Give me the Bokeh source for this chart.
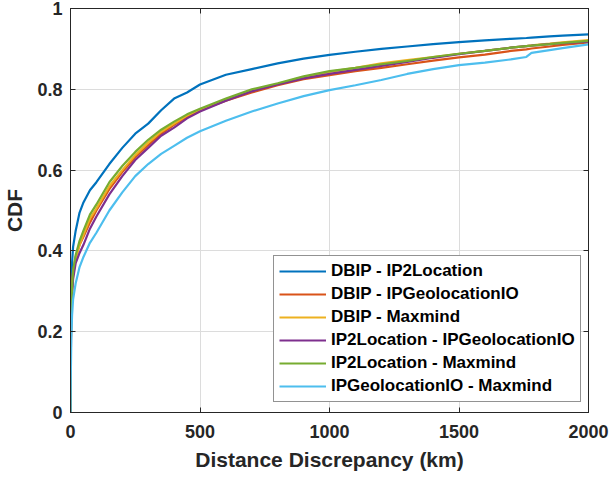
from bokeh.plotting import figure
from bokeh.models import Range1d, LinearAxis, FixedTicker, Legend, LegendItem
from bokeh.embed import file_html
from bokeh.resources import INLINE

# Distance discrepancy (km) sample points
dist_km = [0, 1, 3, 6, 10, 20, 35, 50, 75, 100, 150, 200, 250, 300, 350, 400, 450, 500,
           600, 700, 800, 900, 1000, 1100, 1200, 1300, 1400, 1500, 1600, 1700, 1760,
           1780, 1850, 1900, 2000]

cdf_dbip_ip2loc = [0, 0.22, 0.31, 0.37, 0.41, 0.45, 0.495, 0.52, 0.55, 0.57, 0.615, 0.655,
                   0.69, 0.715, 0.748, 0.777, 0.792, 0.812, 0.836, 0.85, 0.864, 0.876, 0.885,
                   0.893, 0.9, 0.906, 0.912, 0.917, 0.921, 0.925, 0.927, 0.928, 0.931, 0.933, 0.936]
cdf_dbip_ipgeo = [0, 0.18, 0.28, 0.32, 0.35, 0.385, 0.415, 0.435, 0.47, 0.5, 0.553, 0.595,
                  0.632, 0.662, 0.69, 0.712, 0.732, 0.748, 0.772, 0.792, 0.81, 0.825, 0.835,
                  0.845, 0.853, 0.862, 0.871, 0.879, 0.886, 0.895, 0.899, 0.901, 0.906, 0.91, 0.916]
cdf_dbip_maxmind = [0, 0.15, 0.25, 0.30, 0.34, 0.38, 0.415, 0.44, 0.48, 0.505, 0.56, 0.60,
                    0.637, 0.668, 0.695, 0.715, 0.735, 0.75, 0.775, 0.797, 0.813, 0.83, 0.843,
                    0.853, 0.864, 0.872, 0.88, 0.888, 0.895, 0.903, 0.907, 0.909, 0.913, 0.916, 0.922]
cdf_ip2loc_ipgeo = [0, 0.12, 0.24, 0.29, 0.33, 0.37, 0.395, 0.415, 0.455, 0.485, 0.54, 0.585,
                    0.625, 0.655, 0.685, 0.705, 0.728, 0.745, 0.772, 0.795, 0.812, 0.827, 0.838,
                    0.848, 0.858, 0.868, 0.878, 0.887, 0.895, 0.903, 0.907, 0.908, 0.912, 0.914, 0.918]
cdf_ip2loc_maxmind = [0, 0.15, 0.26, 0.31, 0.35, 0.39, 0.425, 0.45, 0.49, 0.515, 0.57, 0.61,
                      0.645, 0.675, 0.7, 0.72, 0.738, 0.752, 0.777, 0.8, 0.815, 0.832, 0.845,
                      0.853, 0.862, 0.87, 0.88, 0.888, 0.895, 0.903, 0.907, 0.908, 0.912, 0.915, 0.92]
cdf_ipgeo_maxmind = [0, 0.08, 0.18, 0.24, 0.28, 0.32, 0.36, 0.385, 0.42, 0.445, 0.5, 0.545,
                     0.585, 0.615, 0.64, 0.66, 0.68, 0.696, 0.722, 0.745, 0.765, 0.783, 0.798,
                     0.81, 0.823, 0.838, 0.85, 0.86, 0.866, 0.874, 0.88, 0.89, 0.897, 0.902, 0.911]

series_names = ["DBIP - IP2Location", "DBIP - IPGeolocationIO", "DBIP - Maxmind",
                "IP2Location - IPGeolocationIO", "IP2Location - Maxmind",
                "IPGeolocationIO - Maxmind"]
series_values = [cdf_dbip_ip2loc, cdf_dbip_ipgeo, cdf_dbip_maxmind,
                 cdf_ip2loc_ipgeo, cdf_ip2loc_maxmind, cdf_ipgeo_maxmind]
series_colors = ["#0072BD", "#D95319", "#EDB120", "#7E2F8E", "#77AC30", "#4DBEEE"]

x_ticks = [0, 500, 1000, 1500, 2000]
y_ticks = [0, 0.2, 0.4, 0.6, 0.8, 1]

FONT = "Liberation Sans"
AX = "#262626"

p = figure(width=609, height=476, output_backend="svg", toolbar_location=None,
           x_range=Range1d(0, 2000), y_range=Range1d(0, 1),
           min_border_left=70, min_border_right=21, min_border_top=8, min_border_bottom=64)
p.outline_line_color = AX
p.outline_line_width = 1
p.background_fill_color = "white"
p.border_fill_color = "white"

for ax, ticks in ((p.xaxis[0], x_ticks), (p.yaxis[0], y_ticks)):
    ax.ticker = FixedTicker(ticks=ticks)
    ax.major_tick_in = 5
    ax.major_tick_out = 0
    ax.minor_tick_in = 0
    ax.minor_tick_out = 0
    ax.axis_line_color = AX
    ax.major_tick_line_color = AX
    ax.major_label_text_font = FONT
    ax.major_label_text_font_style = "bold"
    ax.major_label_text_font_size = "18px"
    ax.major_label_text_color = AX
    ax.axis_label_text_font = FONT
    ax.axis_label_text_font_style = "bold"
    ax.axis_label_text_font_size = "21px"
    ax.axis_label_text_color = AX

p.xaxis[0].axis_label = "Distance Discrepancy (km)"
p.yaxis[0].axis_label = "CDF"
p.xaxis[0].major_label_standoff = 12
p.yaxis[0].major_label_standoff = 8
p.xaxis[0].axis_label_standoff = 7
p.yaxis[0].axis_label_standoff = 8
p.yaxis[0].major_label_overrides = {0: "0", 1: "1"}

# box ticks on top and right (tick marks only, labels not painted)
top = LinearAxis(ticker=FixedTicker(ticks=x_ticks), major_label_text_font_size="0px",
                 major_label_text_color=None,
                 major_tick_in=5, major_tick_out=0, minor_tick_in=0, minor_tick_out=0,
                 axis_line_color=AX, major_tick_line_color=AX, major_label_standoff=0)
right = LinearAxis(ticker=FixedTicker(ticks=y_ticks), major_label_text_font_size="0px",
                   major_label_text_color=None,
                   major_tick_in=5, major_tick_out=0, minor_tick_in=0, minor_tick_out=0,
                   axis_line_color=AX, major_tick_line_color=AX, major_label_standoff=0)
p.add_layout(top, "above")
p.add_layout(right, "right")

p.xgrid.ticker = FixedTicker(ticks=x_ticks)
p.ygrid.ticker = FixedTicker(ticks=y_ticks)
p.grid.grid_line_color = "#dcdcdc"
p.grid.grid_line_width = 1

items = []
for name, vals, col in zip(series_names, series_values, series_colors):
    r = p.line(dist_km, vals, line_color=col, line_width=2.2)
    items.append(LegendItem(label=name, renderers=[r]))

legend = Legend(items=items, location=(203, 10))
legend.label_text_font = FONT
legend.label_text_font_style = "bold"
legend.label_text_font_size = "17px"
legend.label_text_color = "black"
legend.glyph_width = 47
legend.glyph_height = 20
legend.label_height = 20
legend.spacing = 3
legend.padding = 5
legend.margin = 0
legend.label_standoff = 5
legend.border_line_color = AX
legend.border_line_width = 1
legend.background_fill_alpha = 1
p.add_layout(legend, "center")

open("out.html", "w").write(file_html(p, INLINE))
